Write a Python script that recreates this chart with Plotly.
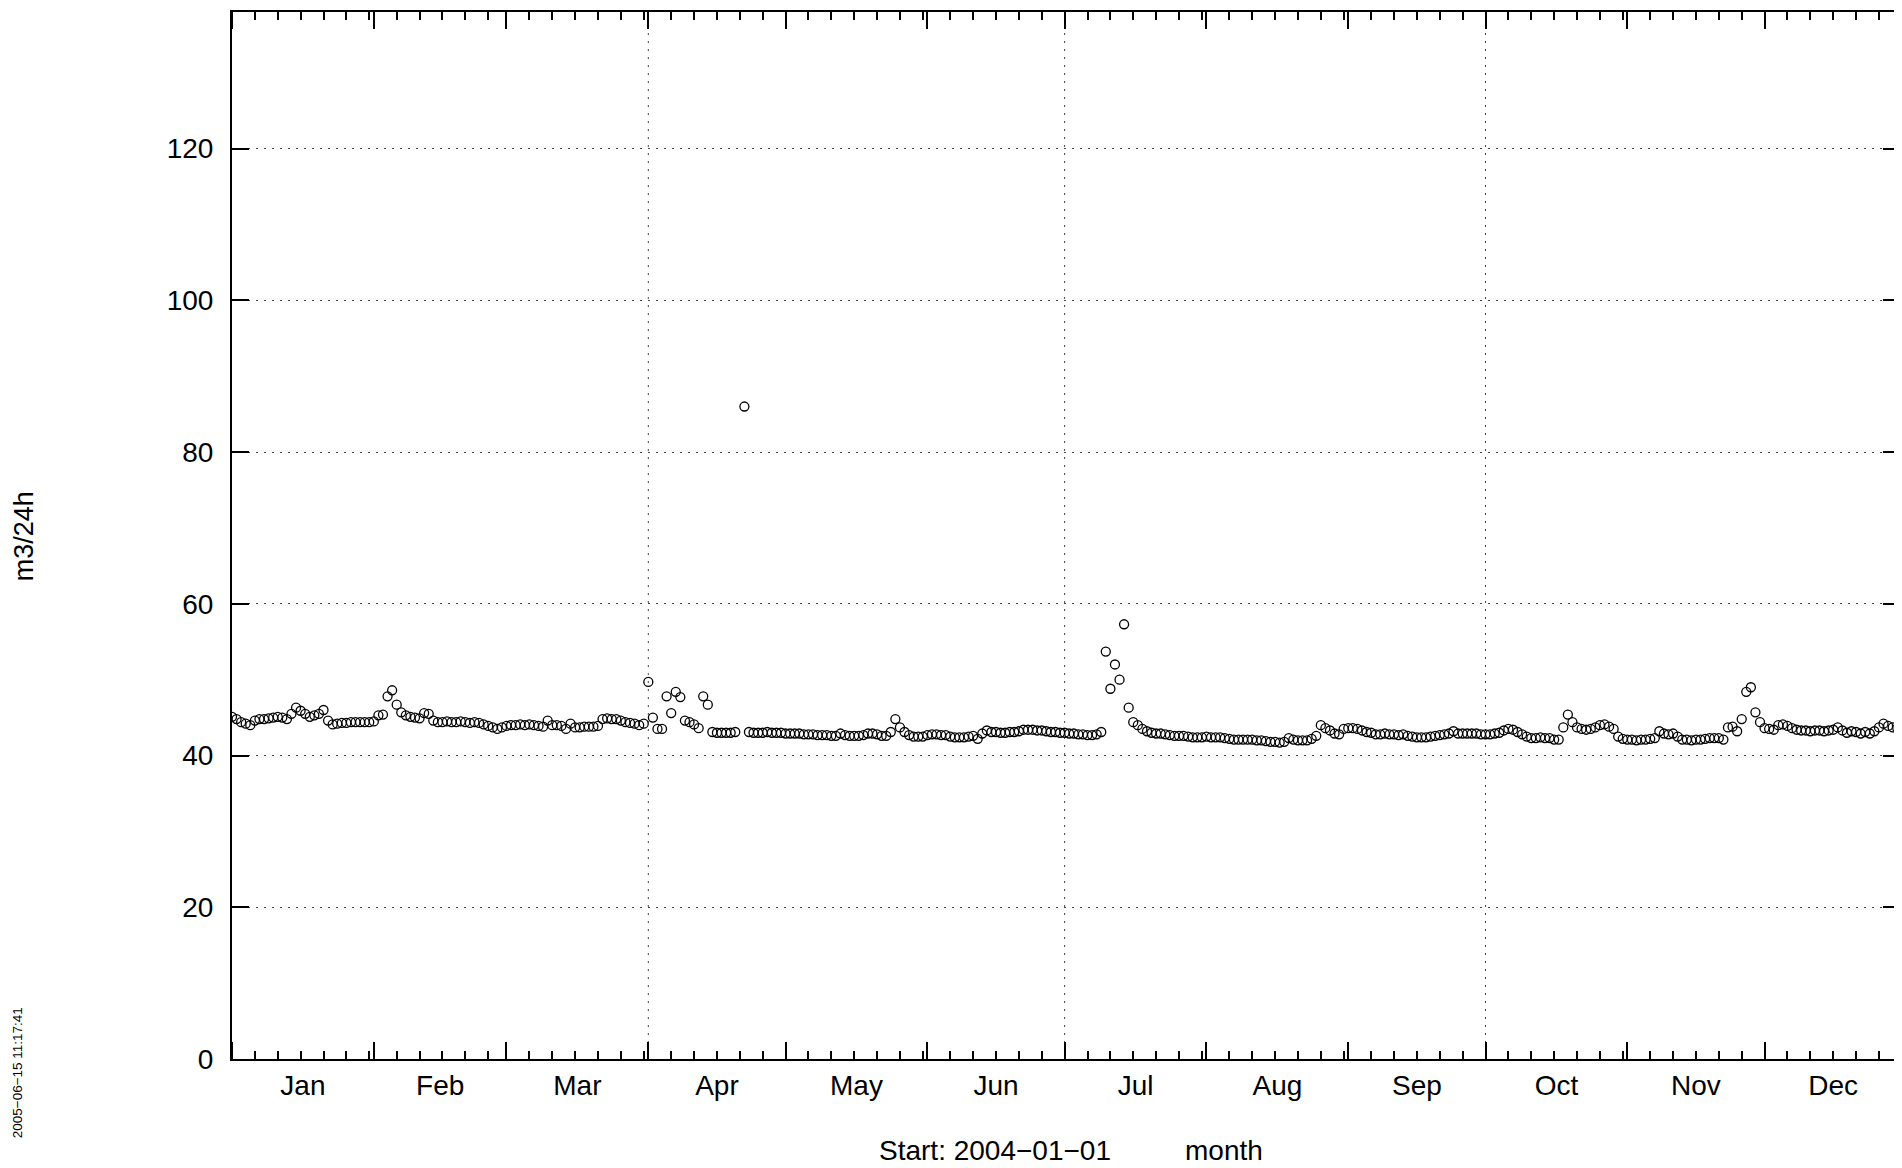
import pandas as pd
import plotly.graph_objects as go

# ---- data (m3/24h, one value per day of 2004) ----
jan_vals = [45.1, 44.8, 44.4, 44.2, 44.0, 44.6, 44.8, 44.8, 44.9, 45.0, 45.1, 45.0, 44.8, 45.5, 46.3, 45.9,
            45.5, 45.1, 45.3, 45.5, 46.0, 44.6, 44.1, 44.2, 44.3, 44.3, 44.4, 44.4, 44.4, 44.4, 44.4]
feb_vals = [44.5, 45.3, 45.4, 47.8, 48.6, 46.7, 45.7, 45.3, 45.1, 45.0, 44.9, 45.6, 45.5, 44.6, 44.4, 44.4,
            44.5, 44.4, 44.4, 44.5, 44.4, 44.3, 44.4, 44.3, 44.1, 43.9, 43.7, 43.5, 43.7]
mar_vals = [43.9, 44.0, 44.0, 44.1, 44.0, 44.1, 44.0, 43.9, 43.8, 44.6, 44.0, 44.0, 43.9, 43.5, 44.2, 43.7,
            43.7, 43.8, 43.8, 43.8, 43.9, 44.8, 44.9, 44.8, 44.8, 44.6, 44.4, 44.3, 44.2, 44.0, 44.2]
apr_vals = [49.7, 45.0, 43.5, 43.5, 47.8, 45.6, 48.4, 47.7, 44.6, 44.4, 44.1, 43.6, 47.8, 46.7, 43.1, 43.0,
            43.0, 43.0, 43.0, 43.1, None, 86.0, 43.1, 43.0, 43.0, 43.0, 43.1, 43.0, 43.0, 43.0]
may_vals = [42.9, 42.9, 42.9, 42.9, 42.8, 42.8, 42.8, 42.7, 42.7, 42.7, 42.6, 42.6, 42.9, 42.7, 42.6, 42.6,
            42.6, 42.7, 42.9, 42.9, 42.8, 42.6, 42.6, 43.1, 44.8, 43.7, 43.1, 42.7, 42.5, 42.5, 42.5]
jun_vals = [42.7, 42.8, 42.8, 42.7, 42.7, 42.5, 42.4, 42.4, 42.4, 42.5, 42.6, 42.2, 42.9, 43.3, 43.1, 43.1,
            43.0, 43.0, 43.1, 43.1, 43.2, 43.4, 43.4, 43.4, 43.3, 43.3, 43.2, 43.1, 43.1, 43.0]
jul_vals = [43.0, 42.9, 42.9, 42.8, 42.8, 42.7, 42.7, 42.8, 43.1, 53.7, 48.8, 52.0, 50.0, 57.3, 46.3, 44.4,
            44.0, 43.5, 43.2, 43.0, 42.9, 42.9, 42.8, 42.7, 42.6, 42.6, 42.6, 42.5, 42.4, 42.4, 42.4]
aug_vals = [42.5, 42.4, 42.4, 42.4, 42.3, 42.2, 42.1, 42.1, 42.1, 42.1, 42.1, 42.0, 42.0, 41.9, 41.8, 41.8,
            41.7, 41.8, 42.3, 42.1, 42.0, 42.0, 42.0, 42.2, 42.6, 44.0, 43.6, 43.3, 42.9, 42.8, 43.5]
sep_vals = [43.6, 43.6, 43.5, 43.3, 43.1, 43.0, 42.8, 42.8, 42.9, 42.8, 42.8, 42.7, 42.8, 42.6, 42.5, 42.4,
            42.4, 42.4, 42.5, 42.6, 42.7, 42.8, 42.9, 43.2, 42.9, 42.9, 42.9, 42.9, 42.9, 42.8]
oct_vals = [42.8, 42.8, 42.9, 43.0, 43.3, 43.5, 43.4, 43.1, 42.8, 42.5, 42.3, 42.3, 42.4, 42.3, 42.3, 42.1,
            42.1, 43.7, 45.4, 44.4, 43.7, 43.5, 43.4, 43.5, 43.7, 44.0, 44.1, 43.8, 43.5, 42.5, 42.2]
nov_vals = [42.1, 42.1, 42.0, 42.1, 42.1, 42.2, 42.3, 43.2, 42.9, 42.8, 42.9, 42.5, 42.1, 42.1, 42.0, 42.1,
            42.1, 42.2, 42.3, 42.3, 42.3, 42.1, 43.7, 43.8, 43.2, 44.8, 48.4, 49.0, 45.7, 44.4]
dec_vals = [43.6, 43.5, 43.4, 44.0, 44.1, 43.9, 43.6, 43.4, 43.3, 43.3, 43.2, 43.3, 43.3, 43.2, 43.3, 43.4,
            43.7, 43.3, 43.0, 43.2, 43.1, 42.9, 43.1, 42.9, 43.2, 43.7, 44.2, 43.9, 43.7, 43.6, 43.5]

start_date = "2004-01-01"
end_date = "2004-12-31"
quarter_lines = ["2004-04-01", "2004-07-01", "2004-10-01"]
y_ticks = [0, 20, 40, 60, 80, 100, 120]
y_label = "m3/24h"
footer_start = "Start: 2004\u221201\u221201"
footer_unit = "month"
timestamp = "2005\u221206\u221215 11:17:41"

values = (jan_vals + feb_vals + mar_vals + apr_vals + may_vals + jun_vals +
          jul_vals + aug_vals + sep_vals + oct_vals + nov_vals + dec_vals)
dates = pd.date_range(start_date, end_date, freq="D")
assert len(values) == len(dates)

# minor ticks every 5 days inside each month (6, 11, 16, 21, 26, 31)
minor_ticks = []
for ms in pd.date_range(start_date, end_date, freq="MS"):
    for d in (6, 11, 16, 21, 26, 31):
        if d <= ms.days_in_month:
            minor_ticks.append(ms.replace(day=d).strftime("%Y-%m-%d"))

FONT = "Liberation Sans, Arial, Helvetica, sans-serif"
W, H = 1894, 1160
ML, MT, MB = 224, 4, 109
PW, PH = W - ML, H - MT - MB


def px_x(fx):
    """figure pixel x -> paper x"""
    return (fx - ML) / PW


def px_y(fy):
    """figure pixel y -> paper y"""
    return (H - MB - fy) / PH


fig = go.Figure()
fig.add_trace(go.Scatter(
    x=dates, y=values, mode="markers",
    marker=dict(symbol="circle-open", size=9, color="black", line=dict(width=1.3, color="black")),
    showlegend=False, hoverinfo="x+y",
))

for q in quarter_lines:
    fig.add_shape(type="line", xref="x", yref="paper", x0=q, x1=q, y0=0, y1=1,
                  line=dict(color="#444444", width=1, dash="2px,6px"), layer="below")

fig.update_layout(
    width=W, height=H,
    margin=dict(l=ML, r=0, t=MT, b=MB),
    paper_bgcolor="white", plot_bgcolor="white",
    font=dict(family=FONT, color="black", size=28),
)

fig.update_xaxes(
    type="date", range=[start_date, "2004-12-30 14:24"],
    showline=True, linecolor="black", linewidth=2, mirror="allticks",
    ticks="inside", ticklen=17, tickwidth=2, tickcolor="black",
    tickmode="linear", tick0=start_date, dtick="M1", tickformat="%b", ticklabelmode="period",
    tickfont=dict(size=28, family=FONT, color="black"),
    showgrid=False, zeroline=False,
    minor=dict(tickmode="array", tickvals=minor_ticks, ticks="inside", ticklen=8, tickwidth=2,
               tickcolor="black", showgrid=False),
)
fig.update_yaxes(
    range=[0, 138], tickmode="array", tickvals=y_ticks,
    showline=True, linecolor="black", linewidth=2, mirror="allticks",
    ticks="inside", ticklen=17, tickwidth=2, tickcolor="black",
    tickfont=dict(size=28, family=FONT, color="black"), ticklabelstandoff=11,
    showgrid=True, gridcolor="#444444", gridwidth=1, griddash="2px,6px", zeroline=False,
)

fig.add_annotation(text=y_label, textangle=-90, xref="paper", yref="paper",
                   x=px_x(16), y=px_y(528), xanchor="center", yanchor="middle", showarrow=False,
                   font=dict(size=27, family=FONT, color="black"))
fig.add_annotation(text=footer_start, xref="paper", yref="paper",
                   x=px_x(988), y=px_y(1142), xanchor="center", yanchor="middle", showarrow=False,
                   font=dict(size=28, family=FONT, color="black"))
fig.add_annotation(text=footer_unit, xref="paper", yref="paper",
                   x=px_x(1217), y=px_y(1142), xanchor="center", yanchor="middle", showarrow=False,
                   font=dict(size=28, family=FONT, color="black"))
fig.add_annotation(text=timestamp, textangle=-90, xref="paper", yref="paper",
                   x=px_x(9), y=px_y(1065), xanchor="center", yanchor="middle", showarrow=False,
                   font=dict(size=13.5, family=FONT, color="black"))

fig.write_html("out.html")
